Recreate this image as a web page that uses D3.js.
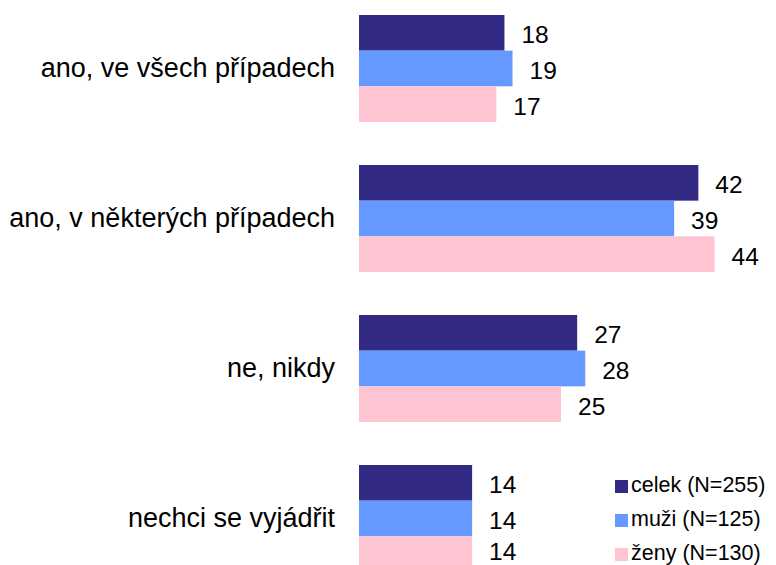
<!DOCTYPE html>
<html>
<head>
<meta charset="utf-8">
<script src="https://cdn.jsdelivr.net/npm/d3@7"></script>
<style>
  body { margin: 0; background: #fff; }
  svg { display: block; font-family: "Liberation Sans", Arial, sans-serif; }
</style>
</head>
<body>
<div id="chart"></div>
<script>
const categories = ["ano, ve všech případech", "ano, v některých případech", "ne, nikdy", "nechci se vyjádřit"]
const seriesNames = ["celek (N=255)", "muži (N=125)", "ženy (N=130)"]
const celek = [18, 42, 27, 14]
const muzi = [19, 39, 28, 14]
const zeny = [17, 44, 25, 14]
const colors = ["#332a84", "#6699ff", "#ffc4d2"]

const width = 776
const height = 565
const baseX = 359

const series = [celek, muzi, zeny]
const rows = categories.map((c, i) => ({
  name: c,
  values: series.map((s, j) => ({ key: seriesNames[j], value: s[i], idx: j }))
}))

const svg = d3.select("#chart").append("svg")
  .attr("width", width)
  .attr("height", height)

const x = d3.scaleLinear()
  .domain([0, 50])
  .range([baseX, baseX + 404])

const y = d3.scaleBand()
  .domain(categories)
  .range([15, 572])
  .paddingInner(0.2867)
  .paddingOuter(0)

const yInner = d3.scaleBand()
  .domain(d3.range(series.length))
  .range([0, y.bandwidth()])
  .padding(0)

const groups = svg.append("g").selectAll("g")
  .data(rows)
  .join("g")
  .attr("transform", d => `translate(0,${y(d.name)})`)

groups.selectAll("rect")
  .data(d => d.values)
  .join("rect")
  .attr("x", x(0))
  .attr("y", d => yInner(d.idx))
  .attr("width", d => x(d.value) - x(0))
  .attr("height", yInner.bandwidth())
  .attr("fill", d => colors[d.idx])

// value labels (kept inside the picture at the bottom edge)
groups.selectAll("text.val")
  .data(d => d.values.map(v => Object.assign({ top: y(d.name) }, v)))
  .join("text")
  .attr("class", "val")
  .attr("x", d => x(d.value) + 17)
  .attr("y", d => Math.min(yInner(d.idx) + yInner.bandwidth() / 2 + 10.5, height - 5 - d.top))
  .attr("font-size", 24.5)
  .attr("fill", "#000")
  .text(d => d.value)

// category labels
svg.append("g").selectAll("text")
  .data(categories)
  .join("text")
  .attr("x", baseX - 24)
  .attr("y", d => y(d) + y.bandwidth() / 2 + 8.5)
  .attr("text-anchor", "end")
  .attr("font-size", 27)
  .attr("fill", "#000")
  .text(d => d)

// legend
const legend = svg.append("g")
  .attr("transform", "translate(615,480)")

const items = legend.selectAll("g")
  .data(seriesNames)
  .join("g")
  .attr("transform", (d, i) => `translate(0,${i * 34})`)

items.append("rect")
  .attr("width", 13)
  .attr("height", 13)
  .attr("fill", (d, i) => colors[i])

items.append("text")
  .attr("x", 16)
  .attr("y", 12)
  .attr("font-size", 21.5)
  .attr("fill", "#000")
  .text(d => d)
</script>
</body>
</html>
